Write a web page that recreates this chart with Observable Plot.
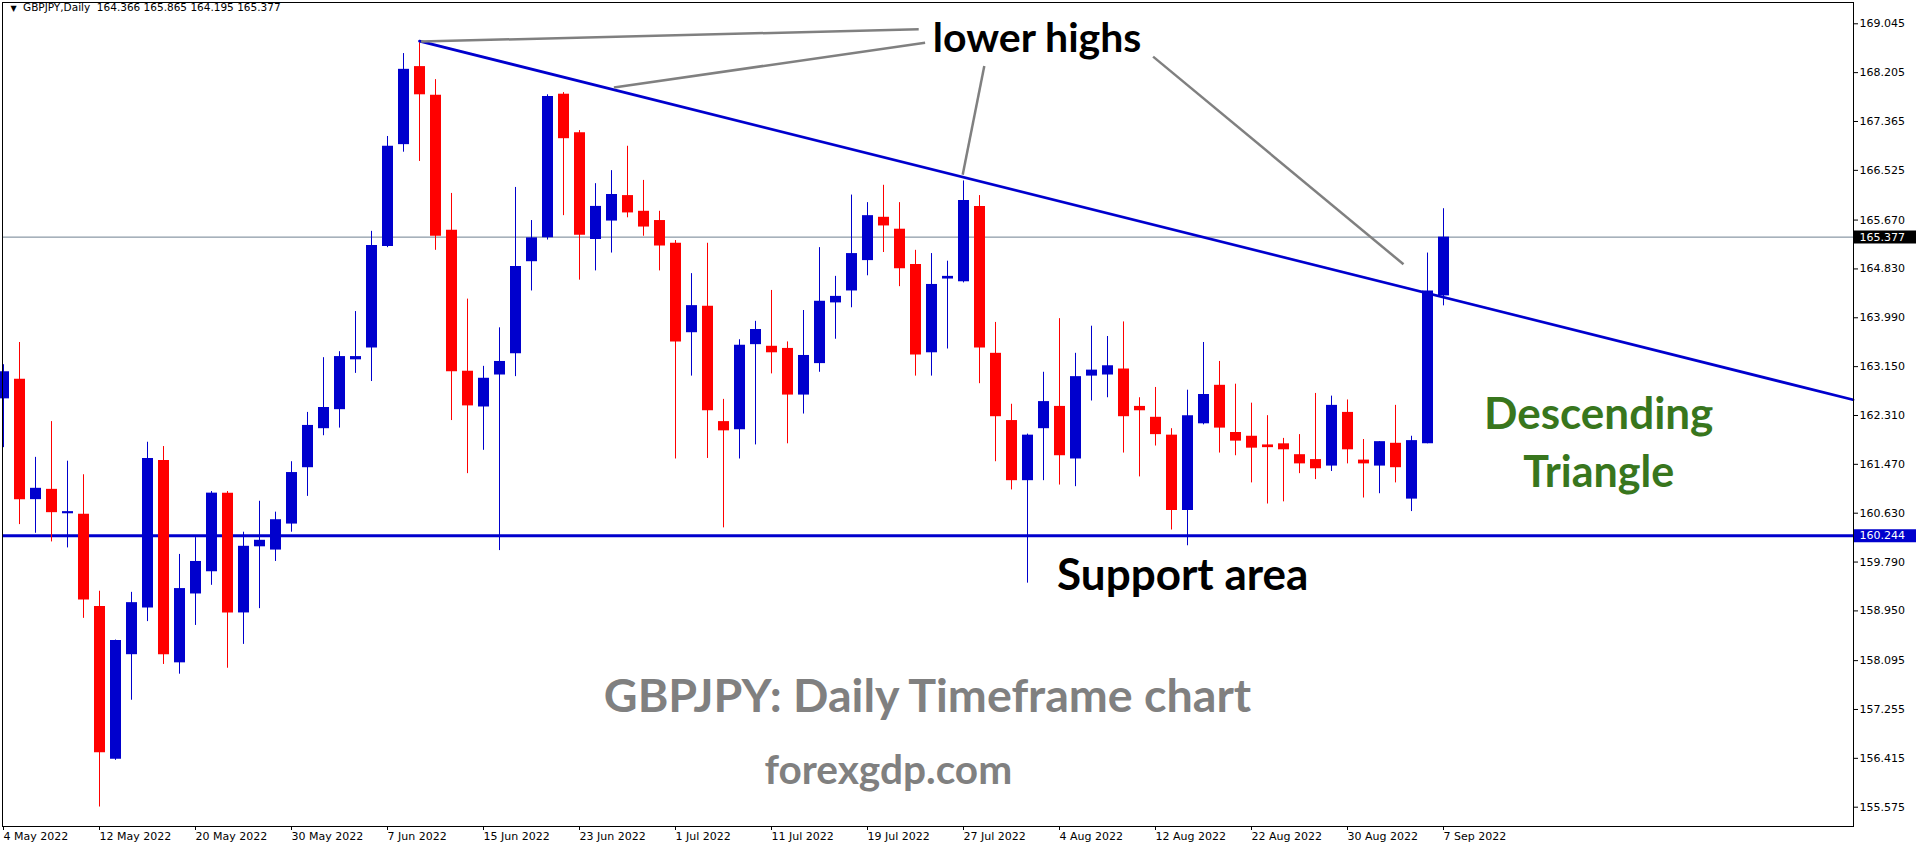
<!DOCTYPE html>
<html>
<head>
<meta charset="utf-8">
<script src="https://cdn.jsdelivr.net/npm/d3@7"></script>
<script src="https://cdn.jsdelivr.net/npm/@observablehq/plot@0.6"></script>
<style>
html, body { margin: 0; padding: 0; background: #fff; }
#chart svg { display: block; }
</style>
</head>
<body>
<div id="chart"></div>
<script>
// ---- Data ----
const dates = [
  "2022-05-04","2022-05-05","2022-05-06","2022-05-09","2022-05-10","2022-05-11","2022-05-12","2022-05-13",
  "2022-05-16","2022-05-17","2022-05-18","2022-05-19","2022-05-20","2022-05-23","2022-05-24","2022-05-25",
  "2022-05-26","2022-05-27","2022-05-30","2022-05-31","2022-06-01","2022-06-02","2022-06-03","2022-06-06",
  "2022-06-07","2022-06-08","2022-06-09","2022-06-10","2022-06-13","2022-06-14","2022-06-15","2022-06-16",
  "2022-06-17","2022-06-20","2022-06-21","2022-06-22","2022-06-23","2022-06-24","2022-06-27","2022-06-28",
  "2022-06-29","2022-06-30","2022-07-01","2022-07-04","2022-07-05","2022-07-06","2022-07-07","2022-07-08",
  "2022-07-11","2022-07-12","2022-07-13","2022-07-14","2022-07-15","2022-07-18","2022-07-19","2022-07-20",
  "2022-07-21","2022-07-22","2022-07-25","2022-07-26","2022-07-27","2022-07-28","2022-07-29","2022-08-01",
  "2022-08-02","2022-08-03","2022-08-04","2022-08-05","2022-08-08","2022-08-09","2022-08-10","2022-08-11",
  "2022-08-12","2022-08-15","2022-08-16","2022-08-17","2022-08-18","2022-08-19","2022-08-22","2022-08-23",
  "2022-08-24","2022-08-25","2022-08-26","2022-08-29","2022-08-30","2022-08-31","2022-09-01","2022-09-02",
  "2022-09-05","2022-09-06","2022-09-07"
];
const open = [
  162.596,162.932,160.863,161.040,160.620,160.611,159.027,156.398,158.197,158.999,161.534,158.057,159.241,159.623,160.975,158.915,
  160.052,159.996,160.443,161.412,162.083,162.410,163.267,163.472,165.215,166.967,168.309,167.815,165.495,163.071,162.456,163.006,
  163.370,164.954,165.364,167.834,167.172,165.336,165.653,166.091,165.821,165.662,165.271,163.733,164.190,162.205,162.065,163.528,
  163.500,163.463,162.661,163.202,164.246,164.451,164.973,165.718,165.513,164.907,163.388,164.656,164.609,165.905,163.379,162.223,
  161.189,162.083,162.466,161.562,162.987,163.006,163.109,162.466,162.279,161.972,160.676,162.167,162.829,162.018,161.953,161.804,
  161.823,161.636,161.552,161.440,162.363,161.543,161.440,161.832,160.872,161.823,164.366
];
const high = [
  163.183,163.565,161.590,162.205,161.524,161.291,159.288,158.449,159.269,161.850,161.776,159.921,160.210,161.002,161.002,160.303,
  160.835,160.648,161.515,162.363,163.304,163.407,164.097,165.476,167.107,168.533,168.719,168.085,166.128,164.311,163.155,163.817,
  166.231,165.662,167.824,167.862,167.209,166.296,166.520,166.939,166.352,165.821,165.318,164.749,165.271,162.587,163.612,163.929,
  164.460,163.575,164.115,165.196,164.702,166.100,165.970,166.268,165.970,165.150,165.094,164.963,166.343,166.091,163.910,162.503,
  161.990,163.053,163.975,163.379,163.845,163.668,163.919,162.615,162.792,162.083,162.745,163.565,163.239,162.848,162.522,162.307,
  161.916,161.981,162.689,162.643,162.577,161.897,161.860,162.484,161.953,165.103,165.865
];
const low = [
  161.757,160.434,160.285,160.136,160.033,158.822,155.578,156.380,157.414,158.766,158.029,157.862,158.700,159.390,157.964,158.374,
  158.989,159.800,160.303,160.919,161.962,162.093,163.034,162.894,165.196,166.837,166.678,165.150,162.223,161.310,161.711,159.987,
  162.978,164.451,165.327,165.746,164.637,164.796,165.103,165.709,165.392,164.796,161.562,162.987,161.571,160.378,161.562,161.804,
  163.025,161.823,162.335,163.053,163.621,164.162,164.712,165.112,164.525,162.987,162.987,163.453,164.590,162.857,161.515,161.030,
  159.427,161.189,161.114,161.086,162.559,162.615,161.664,161.254,161.785,160.341,160.070,162.149,161.664,161.618,161.151,160.788,
  160.825,161.310,161.208,161.347,161.478,160.891,160.965,161.151,160.658,161.823,164.195
];
const close = [
  163.062,160.863,161.058,160.639,160.657,159.138,156.510,158.440,159.092,161.571,158.197,159.334,159.800,160.975,158.915,160.061,
  160.164,160.518,161.329,162.139,162.447,163.323,163.323,165.234,166.939,168.262,167.824,165.392,163.062,162.475,162.950,163.239,
  164.870,165.364,167.796,167.069,165.411,165.905,166.110,165.793,165.550,165.224,163.575,164.199,162.391,162.046,163.519,163.789,
  163.388,162.661,163.342,164.274,164.358,165.094,165.746,165.569,164.833,163.351,164.563,164.702,166.007,163.472,162.289,161.189,
  161.972,162.549,161.618,162.978,163.090,163.165,162.289,162.391,161.981,160.676,162.307,162.671,162.093,161.869,161.748,161.757,
  161.720,161.478,161.394,162.484,161.720,161.478,161.860,161.412,161.878,164.451,165.377
];
const yTicks = [169.045,168.205,167.365,166.525,165.670,164.830,163.990,163.150,162.310,161.470,160.630,159.790,158.950,158.095,157.255,156.415,155.575];
const xTickDates = ["2022-05-04","2022-05-12","2022-05-20","2022-05-30","2022-06-07","2022-06-15","2022-06-23","2022-07-01",
  "2022-07-11","2022-07-19","2022-07-27","2022-08-04","2022-08-12","2022-08-22","2022-08-30","2022-09-07"];
const xTickLabels = ["4 May 2022","12 May 2022","20 May 2022","30 May 2022","7 Jun 2022","15 Jun 2022","23 Jun 2022","1 Jul 2022",
  "11 Jul 2022","19 Jul 2022","27 Jul 2022","4 Aug 2022","12 Aug 2022","22 Aug 2022","30 Aug 2022","7 Sep 2022"];
const symbol = "GBPJPY";
const timeframe = "Daily";
const supportLevel = 160.244;
const lastPrice = 165.377;

// trendline anchor points (bar index, price)
const trendline = [{x: 26, y: 168.747}, {x: 115.6, y: 162.58}];
// gray pointer lines for "lower highs" (bar index, price)
const pointerLines = [
  {x1: 26.1, y1: 168.74, x2: 57.2, y2: 168.95},
  {x1: 38.15, y1: 167.95, x2: 57.6, y2: 168.72},
  {x1: 59.95, y1: 166.45, x2: 61.3, y2: 168.32},
  {x1: 71.85, y1: 168.48, x2: 87.5, y2: 164.91}
];
const annotations = [
  {text: "lower highs", x: 64.6, y: 168.787, size: 41, color: "#000000"},
  {text: "Support area", x: 73.7, y: 159.55, size: 44, color: "#000000"},
  {text: "GBPJPY: Daily Timeframe chart", x: 57.75, y: 157.47, size: 46.6, color: "#808080"},
  {text: "forexgdp.com", x: 55.3, y: 156.2, size: 40.6, color: "#808080"},
  {text: "Descending", x: 99.7, y: 162.32, size: 44, color: "#38761d"},
  {text: "Triangle", x: 99.7, y: 161.31, size: 43, color: "#38761d"}
];

// ---- Build ----
const candles = dates.map((d, i) => ({i, date: d, open: open[i], high: high[i], low: low[i], close: close[i]}));
const up = candles.filter(d => d.close >= d.open);
const down = candles.filter(d => d.close < d.open);
const BLUE = "#0000cd", RED = "#ff0000";
const PX = 16; // pixels per bar
const xDomain = [-1 / PX, 1850 / PX];
const xTicks = xTickDates.map(d => dates.indexOf(d));
const last = candles[candles.length - 1];
const header = `${symbol},${timeframe}  ${last.open.toFixed(3)} ${last.high.toFixed(3)} ${last.low.toFixed(3)} ${last.close.toFixed(3)}`;

const chart = Plot.plot({
  width: 1916,
  height: 850,
  marginLeft: 2,
  marginRight: 63,
  marginTop: 2,
  marginBottom: 24,
  style: {fontFamily: "DejaVu Sans", fontSize: "11px", background: "#fff", color: "#000", overflow: "visible"},
  x: {type: "linear", domain: xDomain},
  y: {type: "linear", domain: [155.243, 169.411]},
  marks: [
    Plot.ruleY([lastPrice], {stroke: "#708090", strokeWidth: 1}),
    Plot.ruleY([supportLevel], {stroke: BLUE, strokeWidth: 3}),
    Plot.ruleX(up, {x: "i", y1: "low", y2: "high", stroke: BLUE, strokeWidth: 1}),
    Plot.ruleX(down, {x: "i", y1: "low", y2: "high", stroke: RED, strokeWidth: 1}),
    Plot.ruleX(up, {x: "i", y1: "open", y2: "close", stroke: BLUE, strokeWidth: 11}),
    Plot.ruleX(down, {x: "i", y1: "open", y2: "close", stroke: RED, strokeWidth: 11}),
    Plot.line(trendline, {x: "x", y: "y", stroke: BLUE, strokeWidth: 2.7}),
    Plot.link(pointerLines, {x1: "x1", y1: "y1", x2: "x2", y2: "y2", stroke: "#808080", strokeWidth: 2.5}),
    ...annotations.map(a => Plot.text([a], {
      x: "x", y: "y", text: "text", fontSize: a.size, fill: a.color,
      fontFamily: "Lato", fontWeight: "bold", textAnchor: "middle", lineAnchor: "middle"
    })),
    Plot.frame({stroke: "#000"}),
    Plot.axisY({anchor: "right", ticks: yTicks, tickFormat: d => d.toFixed(3), tickSize: 4, tickPadding: 2, label: null, fontSize: 11}),
    Plot.axisX({anchor: "bottom", ticks: xTicks, tickFormat: i => xTickLabels[xTicks.indexOf(i)], tickSize: 4, tickPadding: 2,
      textAnchor: "start", label: null, fontSize: 11}),
    // price labels on the axis
    Plot.ruleY([lastPrice], {x1: xDomain[1] + 1 / PX, x2: xDomain[1] + 63 / PX, stroke: "#000", strokeWidth: 13}),
    Plot.ruleY([supportLevel], {x1: xDomain[1] + 1 / PX, x2: xDomain[1] + 63 / PX, stroke: BLUE, strokeWidth: 13}),
    Plot.text([lastPrice], {x: xDomain[1] + 6 / PX, y: d => d, text: d => d.toFixed(3), fill: "#fff", textAnchor: "start", fontSize: 11}),
    Plot.text([supportLevel], {x: xDomain[1] + 6 / PX, y: d => d, text: d => d.toFixed(3), fill: "#fff", textAnchor: "start", fontSize: 11}),
    // header
    Plot.text(["\u25BC"], {frameAnchor: "top-left", dx: 8, dy: 3, fontSize: 8, lineAnchor: "top", fill: "#000"}),
    Plot.text([header], {frameAnchor: "top-left", dx: 20.5, dy: 1.5, fontSize: 10.5, lineAnchor: "top", textAnchor: "start", fill: "#000"})
  ]
});
document.getElementById("chart").appendChild(chart);
</script>
</body>
</html>
